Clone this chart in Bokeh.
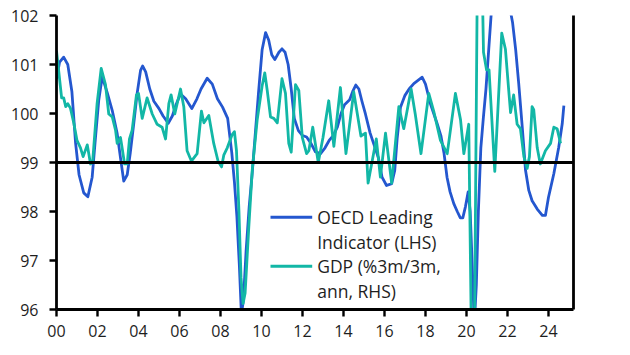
from bokeh.plotting import figure
from bokeh.models import Range1d, LinearAxis, Span, Label, FixedTicker
from bokeh.embed import file_html
from bokeh.resources import INLINE

# ---------------- data ----------------
li_t = [2000.0, 2000.15, 2000.35, 2000.55, 2000.75, 2000.93, 2001.1, 2001.33, 2001.53, 2001.74,
        2001.9, 2002.06, 2002.23, 2002.47, 2002.72, 2002.96, 2003.12, 2003.28, 2003.45, 2003.6,
        2003.77, 2003.93, 2004.1, 2004.2, 2004.35, 2004.55, 2004.75, 2005.0, 2005.2, 2005.45,
        2005.65, 2005.85, 2006.05, 2006.3, 2006.6, 2006.85, 2007.05, 2007.35, 2007.6, 2007.85,
        2008.1, 2008.35, 2008.55, 2008.68, 2008.8, 2008.92, 2009.02, 2009.12, 2009.25, 2009.4,
        2009.55, 2009.7, 2009.85, 2010.03, 2010.2, 2010.35, 2010.5, 2010.65, 2010.85, 2011.0,
        2011.15, 2011.3, 2011.45, 2011.6, 2011.8, 2012.0, 2012.2, 2012.4, 2012.63, 2012.88,
        2013.1, 2013.3, 2013.5, 2013.7, 2013.88, 2014.05, 2014.3, 2014.45, 2014.6, 2014.75,
        2014.9, 2015.07, 2015.3, 2015.5, 2015.7, 2015.88, 2016.1, 2016.35, 2016.5, 2016.62,
        2016.78, 2017.0, 2017.2, 2017.43, 2017.65, 2017.84, 2018.0, 2018.24, 2018.57, 2018.75,
        2018.9, 2019.05, 2019.2, 2019.38, 2019.55, 2019.7, 2019.82, 2019.95, 2020.08, 2020.18,
        2020.28, 2020.38, 2020.48, 2020.58, 2020.7, 2020.82, 2020.95, 2021.1, 2021.25, 2021.45,
        2021.65, 2021.85, 2022.05, 2022.25, 2022.4, 2022.55, 2022.72, 2022.88, 2023.04, 2023.2,
        2023.45, 2023.7, 2023.85, 2024.0, 2024.26, 2024.5, 2024.67, 2024.75]
li_v = [100.7, 101.05, 101.15, 101.0, 100.45, 99.4, 98.75, 98.38, 98.3, 98.7,
        99.5, 100.27, 100.75, 100.43, 100.06, 99.59, 99.1, 98.62, 98.75, 99.2,
        99.8, 100.4, 100.88, 100.97, 100.85, 100.5, 100.25, 100.1, 99.95, 99.8,
        99.95, 100.2, 100.4, 100.3, 100.1, 100.3, 100.5, 100.72, 100.6, 100.3,
        100.13, 99.9, 99.2, 98.6, 97.9, 96.9, 95.9, 96.2, 97.2, 98.1,
        98.8, 99.6, 100.4, 101.3, 101.65, 101.5, 101.2, 101.1, 101.25, 101.32,
        101.25, 101.0, 100.5, 99.9, 99.65, 99.55, 99.52, 99.4, 99.22, 99.18,
        99.3, 99.45, 99.55, 99.72, 100.0, 100.18, 100.28, 100.45, 100.58, 100.5,
        100.25, 99.99, 99.6, 99.35, 99.1, 98.7, 98.53, 98.57, 98.84, 99.5,
        100.13, 100.37, 100.5, 100.61, 100.68, 100.74, 100.6, 100.2, 99.79, 99.55,
        99.2, 98.7, 98.4, 98.16, 98.0, 97.87, 97.87, 98.1, 98.4, 98.0,
        96.9, 95.7, 96.5, 98.0, 99.3, 99.9, 100.5, 101.4, 102.3, 102.9,
        103.0, 102.7, 102.3, 101.85, 101.3, 100.6, 99.72, 98.84, 98.43, 98.22,
        98.05, 97.92, 97.92, 98.29, 98.77, 99.31, 99.79, 100.16]

gdp_t = [2000.0, 2000.25, 2000.35, 2000.45, 2000.55, 2000.68, 2000.84, 2001.0, 2001.17, 2001.3,
         2001.5, 2001.66, 2001.76, 2001.98, 2002.18, 2002.39, 2002.55, 2002.72, 2002.88, 2002.96,
         2003.12, 2003.2, 2003.32, 2003.45, 2003.56, 2003.69, 2003.9, 2004.0, 2004.18, 2004.42,
         2004.67, 2004.91, 2005.15, 2005.32, 2005.48, 2005.59, 2005.77, 2006.05, 2006.21, 2006.37,
         2006.58, 2006.86, 2007.07, 2007.19, 2007.43, 2007.67, 2007.88, 2008.05, 2008.16, 2008.33,
         2008.57, 2008.68, 2008.78, 2008.9, 2009.0, 2009.1, 2009.2, 2009.38, 2009.55, 2009.79,
         2010.03, 2010.16, 2010.28, 2010.44, 2010.6, 2010.77, 2011.0, 2011.17, 2011.33, 2011.45,
         2011.66, 2011.82, 2011.99, 2012.2, 2012.31, 2012.5, 2012.77, 2013.0, 2013.28, 2013.53,
         2013.85, 2014.12, 2014.5, 2014.85, 2015.07, 2015.2, 2015.6, 2015.8, 2016.05, 2016.35,
         2016.7, 2016.94, 2017.3, 2017.5, 2017.78, 2018.16, 2018.4, 2018.73, 2019.06, 2019.46,
         2019.71, 2019.87, 2020.11, 2020.33, 2020.6, 2020.83, 2020.98, 2021.1, 2021.38,
         2021.72, 2021.9, 2022.06, 2022.15, 2022.3, 2022.47, 2022.63, 2022.8, 2022.96, 2023.07,
         2023.2, 2023.28, 2023.45, 2023.6, 2023.85, 2024.1, 2024.26, 2024.42, 2024.59]
gdp_v = [7.6, 4.4, 4.4, 3.8, 4.0, 3.7, 2.7, 1.5, 1.0, 0.4,
         1.2, -0.1, 0.0, 4.0, 6.4, 5.3, 3.3, 3.1, 2.2, 1.3,
         1.7, 1.0, -0.1, -0.1, 1.6, 2.2, 4.6, 4.7, 3.0, 4.4,
         3.3, 2.6, 2.4, 1.6, 4.0, 4.6, 3.3, 5.0, 3.8, 0.8,
         0.1, 0.6, 3.5, 2.7, 3.2, 1.3, 0.1, -0.3, 0.5, 1.0,
         1.9, 2.1, 0.8, -3.3, -7.8, -9.6, -8.9, -4.4, -0.5, 2.9,
         5.2, 6.1, 4.9, 3.1, 3.0, 2.7, 5.7, 4.7, 1.3, 0.7,
         5.3, 4.9, 1.7, 0.6, 0.8, 2.4, 0.0, 1.7, 4.2, 1.1,
         5.1, 0.6, 4.8, 1.8, 2.0, -1.4, 1.6, -1.0, 2.0, -1.4,
         3.8, 2.3, 5.0, 3.3, 0.6, 4.7, 3.5, 1.5, 0.6, 4.7,
         2.9, 0.6, 2.6, -22.0, 25.0, 7.5, 6.3, 6.3, -0.6,
         8.8, 7.7, 4.9, 3.4, 4.6, 2.6, 2.3, 0.4, -0.4, 0.4,
         3.8, 3.6, 1.0, -0.1, 0.8, 1.3, 2.4, 2.3, 1.3]

x_ticks = list(range(2000, 2025, 2))
x_labels = ["00", "02", "04", "06", "08", "10", "12", "14", "16", "18", "20", "22", "24"]
lhs_ticks = [96, 97, 98, 99, 100, 101, 102]
rhs_ticks = [-10, -8, -6, -4, -2, 0, 2, 4, 6, 8, 10]
legend_labels = [["OECD Leading", "Indicator (LHS)"], ["GDP (%3m/3m,", "ann, RHS)"]]

# ---------------- style ----------------
BLUE = "#2457CF"
TEAL = "#12B7A6"
FONT = "Open Sans"
TXT = "#1e1e1e"

X0, X1 = 2000.0, 2025.22
Y0, Y1 = 96.0, 102.0
FL, FR, FT, FB = 56, 573, 15, 309   # frame in pixels

p = figure(width=630, height=355, x_range=Range1d(X0, X1), y_range=Range1d(Y0, Y1),
           output_backend="svg", toolbar_location=None,
           min_border_left=FL, min_border_right=630 - FR, min_border_top=FT,
           min_border_bottom=355 - FB)
p.outline_line_color = None
p.xgrid.visible = False
p.ygrid.visible = False
p.background_fill_color = "white"
p.border_fill_color = "white"

p.extra_y_ranges = {"rhs": Range1d(-10, 10)}
rax = LinearAxis(y_range_name="rhs", ticker=FixedTicker(ticks=rhs_ticks))
p.add_layout(rax, "right")

p.xaxis.ticker = FixedTicker(ticks=x_ticks)
p.xaxis.major_label_overrides = {t: l for t, l in zip(x_ticks, x_labels)}
p.yaxis.ticker = FixedTicker(ticks=lhs_ticks)

for ax in p.axis:
    ax.axis_line_color = "black"
    ax.axis_line_width = 2.8
    ax.major_tick_line_color = "black"
    ax.major_tick_line_width = 2.4
    ax.major_tick_out = 7
    ax.major_tick_in = 0
    ax.minor_tick_out = 0
    ax.minor_tick_in = 0
    ax.major_label_text_font = FONT
    ax.major_label_text_font_size = "16px"
    ax.major_label_text_color = TXT
p.xaxis.major_label_standoff = 8
p.yaxis[0].major_label_standoff = 11
rax.major_label_standoff = 12

p.line(li_t, li_v, line_color=BLUE, line_width=2.8, line_join="round")
p.line(gdp_t, gdp_v, y_range_name="rhs", line_color=TEAL, line_width=2.8, line_join="round")

p.add_layout(Span(location=99, dimension="width", line_color="black", line_width=2.8))

# ---------------- legend (pixel layout converted to data units) ----------------
def px_x(px):
    return X0 + (px - FL) / (FR - FL) * (X1 - X0)

def px_y(py):
    return Y1 - (py - FT) / (FB - FT) * (Y1 - Y0)

sample_l, sample_r, text_x = 270, 311.7, 316.7
item_y = [216.7, 265.7]
line_gap = 25
for (lines, color, yy) in zip(legend_labels, [BLUE, TEAL], item_y):
    p.segment(x0=[px_x(sample_l)], y0=[px_y(yy)], x1=[px_x(sample_r)], y1=[px_y(yy)],
              line_color=color, line_width=3)
    for k, txt in enumerate(lines):
        p.add_layout(Label(x=px_x(text_x), y=px_y(yy + k * line_gap), text=txt,
                           text_font=FONT, text_font_size="17.5px", text_color=TXT,
                           text_baseline="middle", text_align="left"))

open("out.html", "w").write(file_html(p, INLINE))
